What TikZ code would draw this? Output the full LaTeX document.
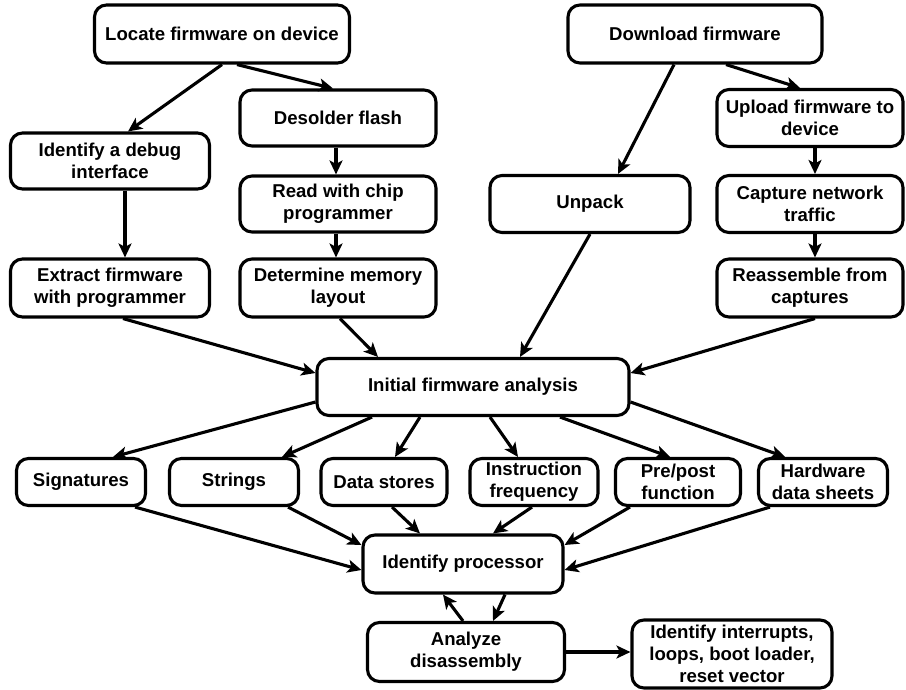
\documentclass[tikz,border=0pt]{standalone}
\usepackage{fontspec}
\setmainfont{Liberation Sans}
\usetikzlibrary{arrows.meta}
\tikzset{
  box/.style={draw, line width=3.1pt, rounded corners=12pt, align=center,
    font=\fontsize{18.6}{22}\selectfont\bfseries, inner sep=1pt},
  conn/.style={line width=3.1pt, -{Stealth[length=14pt,width=13pt,inset=3.5pt]}}
}
\begin{document}
\begin{tikzpicture}[x=1pt,y=-1pt]
\useasboundingbox (0,0) rectangle (906,689);
\node[box, minimum width=255pt, minimum height=58pt] (loc) at (222,34) {Locate firmware on device};
\node[box, minimum width=254pt, minimum height=58pt] (dl) at (695,34) {Download firmware};
\node[box, minimum width=196pt, minimum height=56pt] (des) at (338,118) {Desolder flash};
\node[box, minimum width=199pt, minimum height=56pt] (dbg) at (110,161) {Identify a debug\\interface};
\node[box, minimum width=186pt, minimum height=57pt] (up) at (810,118) {Upload firmware to\\device};
\node[box, minimum width=196pt, minimum height=56pt] (read) at (338,204) {Read with chip\\programmer};
\node[box, minimum width=200pt, minimum height=57pt] (unp) at (590,204) {Unpack};
\node[box, minimum width=186pt, minimum height=57pt] (cap) at (810,204) {Capture network\\traffic};
\node[box, minimum width=199pt, minimum height=58pt] (ext) at (110,288) {Extract firmware\\with programmer};
\node[box, minimum width=196pt, minimum height=58pt] (det) at (338,288) {Determine memory\\layout};
\node[box, minimum width=186pt, minimum height=58pt] (rea) at (810,288) {Reassemble from\\captures};
\node[box, minimum width=312pt, minimum height=57pt] (ini) at (473,387) {Initial firmware analysis};
\node[box, minimum width=129pt, minimum height=47pt] (sig) at (81,482) {Signatures};
\node[box, minimum width=129pt, minimum height=47pt] (str) at (234,482) {Strings};
\node[box, minimum width=126pt, minimum height=47pt] (dat) at (384,482) {Data stores};
\node[box, minimum width=128pt, minimum height=47pt] (ins) at (534,482) {Instruction\\frequency};
\node[box, minimum width=125pt, minimum height=47pt] (pre) at (678,482) {Pre/post\\function};
\node[box, minimum width=129pt, minimum height=47pt] (hw) at (823,482) {Hardware\\data sheets};
\node[box, minimum width=200pt, minimum height=58pt] (idp) at (463,564) {Identify processor};
\node[box, minimum width=197pt, minimum height=59pt] (ana) at (466,652) {Analyze\\disassembly};
\node[box, minimum width=200pt, minimum height=68pt] (int) at (732,654) {Identify interrupts,\\loops, boot loader,\\reset vector};

\draw[conn] (loc.south) -- ([xshift=18pt]dbg.north);
\draw[conn] ([xshift=15pt]loc.south) -- ([xshift=-5pt]des.north);
\draw[conn] ([xshift=-2pt]des.south) -- ([xshift=-2pt]read.north);
\draw[conn] ([xshift=-2pt]read.south) -- ([xshift=-2pt]det.north);
\draw[conn] ([xshift=15pt]dbg.south) -- ([xshift=15pt]ext.north);
\draw[conn] ([xshift=-21pt]dl.south) -- ([xshift=28pt]unp.north);
\draw[conn] ([xshift=31pt]dl.south) -- ([xshift=-10pt]up.north);
\draw[conn] ([xshift=5pt]up.south) -- ([xshift=5pt]cap.north);
\draw[conn] ([xshift=5pt]cap.south) -- ([xshift=5pt]rea.north);
\draw[conn] ([xshift=13pt]ext.south) -- ([yshift=14pt]ini.west);
\draw[conn] ([xshift=2pt]det.south) -- ([xshift=-95pt]ini.north);
\draw[conn] (unp.south) -- ([xshift=47pt]ini.north);
\draw[conn] ([xshift=5pt]rea.south) -- ([yshift=14pt]ini.east);
\draw[conn] ([yshift=-15pt]ini.west) -- ([xshift=32pt]sig.north);
\draw[conn] ([xshift=-101pt]ini.south) -- ([xshift=48pt]str.north);
\draw[conn] ([xshift=-53pt]ini.south) -- ([xshift=11pt]dat.north);
\draw[conn] ([xshift=17pt]ini.south) -- ([xshift=-16pt]ins.north);
\draw[conn] ([xshift=87pt]ini.south) -- ([xshift=-8pt]pre.north);
\draw[conn] ([yshift=-15pt]ini.east) -- ([xshift=-38pt]hw.north);
\draw[conn] ([xshift=54pt]sig.south) -- ([yshift=-6pt]idp.west);
\draw[conn] ([xshift=54pt]str.south) -- ([yshift=19pt]idp.west);
\draw[conn] ([xshift=8pt]dat.south) -- ([xshift=-43pt]idp.north);
\draw[conn] ([xshift=-2pt]ins.south) -- ([xshift=30pt]idp.north);
\draw[conn] ([xshift=-48pt]pre.south) -- ([yshift=19pt]idp.east);
\draw[conn] ([xshift=-53pt]hw.south) -- ([yshift=-6pt]idp.east);
\draw[conn] ([xshift=-3pt]ana.north) -- ([xshift=-20pt]idp.south);
\draw[conn] ([xshift=42pt]idp.south) -- ([xshift=27pt]ana.north);
\draw[conn] (ana.east) -- (ana.east -| int.west);
\end{tikzpicture}
\end{document}
